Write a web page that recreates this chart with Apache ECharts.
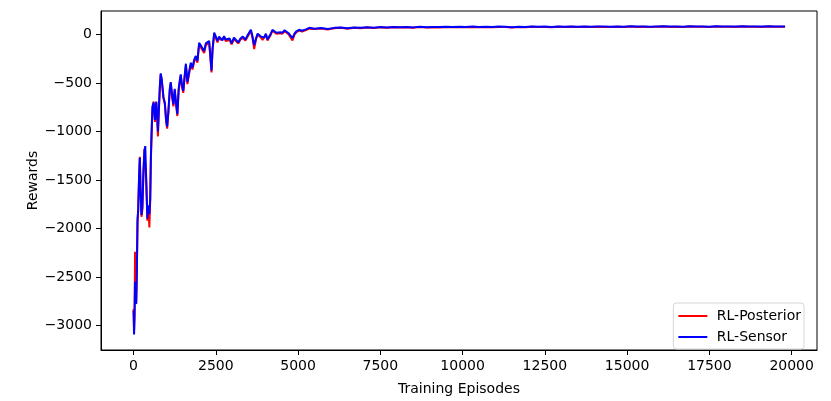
<!DOCTYPE html>
<html>
<head>
<meta charset="utf-8">
<script src="https://cdn.jsdelivr.net/npm/echarts@6/dist/echarts.min.js"></script>
<style>
  html, body { margin: 0; padding: 0; background: #fff; }
  #chart { width: 831px; height: 401px; }
</style>
</head>
<body>
<div id="chart"></div>
<script>
// training episodes (x) shared by both runs
var episodes = [
  0, 15, 30, 45, 60, 80, 100, 120, 140, 165,
  190, 215, 240, 268, 300, 330, 355, 385, 420, 450,
  480, 505, 525, 550, 575, 610, 650, 690, 715, 740,
  770, 800, 825, 855, 885, 910, 950, 990, 1020, 1060,
  1100, 1130, 1170, 1210, 1250, 1290, 1330, 1370, 1405, 1435,
  1470, 1510, 1550, 1590, 1636, 1690, 1740, 1790, 1840, 1890,
  1940, 1992, 2040, 2093, 2145, 2195, 2245, 2296, 2330, 2368,
  2400, 2450, 2500, 2550, 2600, 2650, 2700, 2750, 2800, 2860,
  2920, 2980, 3050, 3110, 3180, 3250, 3320, 3400, 3460, 3510,
  3565, 3615, 3665, 3720, 3770, 3815, 3870, 3920, 3970, 4020,
  4070, 4120, 4170, 4220, 4280, 4340, 4400, 4460, 4525, 4590,
  4650, 4710, 4770, 4830, 4890, 4950, 5030, 5120, 5240, 5340,
  5500, 5700, 5900, 6100, 6300, 6500, 6700, 6900, 7100, 7300,
  7500, 7700, 7900, 8100, 8300, 8500, 8700, 8900, 9100, 9300,
  9500, 9700, 9900, 10100, 10300, 10500, 10700, 10900, 11100, 11300,
  11500, 11700, 11900, 12100, 12300, 12500, 12700, 12900, 13100, 13300,
  13500, 13700, 13900, 14100, 14300, 14500, 14700, 14900, 15100, 15300,
  15500, 15700, 15900, 16100, 16300, 16500, 16700, 16900, 17100, 17300,
  17500, 17700, 17900, 18100, 18300, 18500, 18700, 18900, 19100, 19300,
  19500, 19700, 19800
]

var posterior = [
  -2830, -3050, -2900, -2240, -2450, -2760, -2400, -1950, -1800, -1500,
  -1260, -1620, -1880, -1800, -1400, -1180, -1170, -1520, -1920, -1780,
  -1990, -1720, -1300, -1000, -760, -690, -900, -700, -840, -1050,
  -780, -540, -410, -470, -580, -660, -720, -900, -970, -800,
  -580, -500, -640, -740, -580, -720, -840, -580, -490, -420,
  -540, -600, -450, -320, -510, -400, -310, -360, -280, -240,
  -290, -100, -130, -140, -190, -110, -120, -80, -220, -390,
  -160, 5, -35, -80, -30, -55, -75, -30, -65, -85,
  -55, -100, -45, -30, -90, -50, -35, -60, -25, -10,
  40, -35, -150, -50, 0, 10, -30, -55, -40, 0,
  -60, -80, 0, 40, 20, 10, 30, 15, 10, 35,
  20, 5, -15, -60, 0, 25, 42, 32, 48, 62,
  58, 64, 54, 66, 70, 62, 71, 67, 74, 69,
  75, 71, 77, 73, 76, 72, 78, 74, 77, 75,
  79, 76, 78, 77, 80, 76, 79, 77, 80, 78,
  73, 79, 77, 81, 78, 80, 77, 81, 79, 82,
  78, 81, 79, 82, 80, 78, 81, 79, 83, 80,
  82, 79, 81, 83, 80, 82, 79, 83, 81, 82,
  79, 83, 81, 82, 80, 83, 81, 82, 80, 83,
  81, 82, 81
]

var sensor = [
  -2850, -3095, -2880, -2550, -2700, -2780, -2450, -1900, -1820, -1480,
  -1270, -1650, -1860, -1780, -1420, -1200, -1150, -1500, -1900, -1760,
  -1850, -1700, -1280, -980, -740, -700, -880, -690, -820, -1000,
  -760, -520, -400, -460, -560, -650, -700, -880, -950, -780,
  -560, -490, -620, -720, -560, -700, -820, -560, -470, -410,
  -520, -580, -430, -300, -490, -380, -290, -340, -260, -220,
  -270, -85, -110, -120, -170, -90, -100, -65, -200, -373,
  -150, 20, -20, -65, -20, -40, -60, -15, -50, -70,
  -40, -90, -30, -20, -80, -40, -20, -50, -10, 0,
  50, -20, -110, -40, 10, 20, -20, -40, -30, 10,
  -50, -70, 10, 50, 30, 20, 40, 25, 20, 45,
  30, 15, 0, -35, 10, 35, 50, 40, 55, 70,
  62, 68, 58, 70, 73, 66, 74, 70, 77, 72,
  78, 74, 80, 76, 79, 75, 81, 77, 80, 78,
  82, 79, 81, 80, 83, 79, 82, 80, 83, 81,
  76, 82, 80, 84, 81, 83, 80, 84, 82, 85,
  81, 84, 82, 85, 83, 81, 84, 82, 86, 83,
  85, 82, 84, 86, 83, 85, 82, 86, 84, 85,
  82, 86, 84, 85, 83, 86, 84, 85, 83, 86,
  84, 85, 84
]

var xTicks = [0, 2500, 5000, 7500, 10000, 12500, 15000, 17500, 20000]
var yTicks = [-3000, -2500, -2000, -1500, -1000, -500, 0]

function pairs (ys) {
  return episodes.map(function (x, i) { return [x, ys[i]] })
}

var font = 'DejaVu Sans'
var chart = echarts.init(document.getElementById('chart'))

chart.setOption({
  animation: false,
  backgroundColor: '#fff',
  textStyle: { fontFamily: font },
  grid: {
    left: 101,
    right: 14,
    top: 11,
    bottom: 46,
    show: true,
    borderColor: '#000',
    borderWidth: 1
  },
  legend: {
    orient: 'vertical',
    right: 27,
    bottom: 52,
    padding: [6, 3, 5, 5],
    itemGap: 7,
    itemWidth: 29,
    itemHeight: 2,
    icon: 'rect',
    backgroundColor: 'rgba(255,255,255,0.8)',
    borderColor: '#d6d6d6',
    borderWidth: 1,
    borderRadius: 3,
    // a leading space widens the gap between the line sample and its label
    formatter: function (name) { return ' ' + name },
    textStyle: { fontFamily: font, fontSize: 14, color: '#000' },
    data: ['RL-Posterior', 'RL-Sensor']
  },
  xAxis: {
    type: 'value',
    min: -990,
    max: 20770,
    name: 'Training Episodes',
    nameLocation: 'middle',
    nameGap: 32,
    nameMoveOverlap: false,
    nameTextStyle: { fontFamily: font, fontSize: 14, color: '#000' },
    axisLine: { show: true, onZero: false, lineStyle: { color: '#000', width: 1 } },
    axisTick: { show: true, length: 5, customValues: xTicks, lineStyle: { color: '#000' } },
    axisLabel: {
      customValues: xTicks,
      margin: 9,
      fontFamily: font,
      fontSize: 14,
      color: '#000',
      formatter: function (v) { return String(v) }
    },
    splitLine: { show: false }
  },
  yAxis: {
    type: 'value',
    min: -3254,
    max: 244,
    name: 'Rewards',
    nameLocation: 'middle',
    nameGap: 61,
    nameMoveOverlap: false,
    nameTextStyle: { fontFamily: font, fontSize: 14, color: '#000' },
    axisLine: { show: true, onZero: false, lineStyle: { color: '#000', width: 1 } },
    axisTick: { show: true, length: 5, customValues: yTicks, lineStyle: { color: '#000' } },
    axisLabel: {
      customValues: yTicks,
      margin: 9,
      fontFamily: font,
      fontSize: 14,
      color: '#000',
      formatter: function (v) { return v < 0 ? '\u2212' + Math.abs(v) : String(v) }
    },
    splitLine: { show: false }
  },
  series: [
    {
      name: 'RL-Posterior',
      type: 'line',
      showSymbol: false,
      color: '#ff0000',
      lineStyle: { width: 2, color: '#ff0000' },
      data: pairs(posterior)
    },
    {
      name: 'RL-Sensor',
      type: 'line',
      showSymbol: false,
      color: '#0000ff',
      lineStyle: { width: 2, color: '#0000ff' },
      data: pairs(sensor)
    }
  ]
})
</script>
</body>
</html>
